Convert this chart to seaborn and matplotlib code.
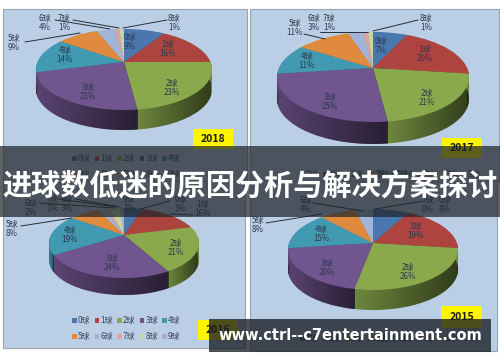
import numpy as np
from matplotlib import pyplot as plt
from matplotlib.patches import Rectangle
from matplotlib.path import Path
from matplotlib.transforms import Transform
import seaborn as sns

sns.set_theme(style='white')
plt.rcParams['font.family'] = ['Noto Sans CJK SC', 'DejaVu Sans']

title = "进球数低迷的原因分析与解决方案探讨"
site = "www.ctrl--c7entertainment.com"
goals = ["0球", "1球", "2球", "3球", "4球", "5球", "6球", "7球", "8球", "9球"]
colors = sns.color_palette(["#4a77ae", "#ad4440", "#8aa84c", "#71558f", "#4299b2",
                            "#e08a3e", "#a2b5d8", "#dba3a1", "#c4d6a2", "#b8a8cf"])

years = ["2018", "2017", "2016", "2015"]
shares_2018 = [9, 16, 23, 23, 14, 9, 4, 1, 1]
shares_2017 = [7, 20, 21, 25, 11, 11, 3, 1, 1]
shares_2016 = [5, 16, 21, 24, 19, 8, 2, 1, 3, 1]
shares_2015 = [8, 19, 26, 20, 15, 8, 4, 0]
shares = [shares_2018, shares_2017, shares_2016, shares_2015]

# pixel layout of every panel: cx, cy, half width, far radius, near radius, wall height
pies = [(124, 62, 88, 33, 48, 20),
        (373, 68, 96, 36, 54, 22),
        (124, 235, 75, 27, 43, 17),
        (373, 243, 85, 34, 47, 20)]
panels = [(3, 9, 244, 172), (250, 9, 249, 172), (3, 181, 242, 167), (250, 181, 247, 170)]
year_boxes = [(193, 129, 40, 20), (442, 138, 40, 20), (198, 320, 40, 20), (441, 306, 41, 22)]

label_xy = [
    [(130, 42), (168, 49), (172, 88), (88, 92), (65, 55), (14, 43), (45, 23), (64, 23), (174, 23)],
    [(381, 46), (425, 54), (427, 98), (330, 102), (307, 61), (295, 28), (314, 23), (329, 23), (426, 23)],
    [(181, 204), (203, 209), (176, 248), (112, 263), (70, 235), (12, 229), (31, 208), (52, 204), (67, 204), (129, 204)],
    [(445, 205), (416, 231), (408, 272), (327, 268), (321, 234), (258, 225), (306, 205), (428, 205)],
]
leaders = [
    [((25, 42), (80, 33)), ((55, 20), (110, 29)), ((73, 20), (119, 28)), ((167, 20), (123, 28))],
    [((304, 34), (325, 39)), ((320, 32), (357, 32)), ((335, 32), (368, 32)), ((418, 20), (373, 31))],
    [((21, 226), (72, 218)), ((39, 203), (115, 208)), ((58, 199), (117, 207)), ((75, 199), (120, 207)),
     ((170, 201), (140, 209)), ((193, 215), (170, 214))],
    [((266, 223), (322, 214)), ((313, 203), (363, 211)), ((423, 201), (375, 209))],
]
legend_rows = [[(72, 158, 0), (72, 174, 5)], [(300, 174, 0), (372, 174, 5)],
               [(72, 320, 0), (72, 336, 5)], [(300, 338, 0), (372, 338, 5)]]


class TiltedPie(Transform):
    # unit circle seen from above, near side larger than far side
    input_dims = output_dims = 2

    def __init__(self, cx, cy, width, far, near):
        super().__init__()
        self.cx, self.cy, self.far = cx, cy, far
        self.c = (near - far) / (near + far)
        self.width = width * np.sqrt(1 - self.c ** 2)

    def transform_non_affine(self, values):
        u, v = np.asarray(values).T
        w = 1 + self.c * v
        x = self.cx + self.width * u / w
        y = self.cy - self.far * (1 + self.c) * v / w
        return np.column_stack([x, y])


def draw_pie(ax, values, layout):
    cx, cy, width, far, near, depth = layout
    use = colors[:len(values)]
    walls = [tuple(np.array(c) * 0.8) for c in use]
    for dy in np.arange(depth, 0, -0.5):
        wedges, _ = ax.pie(values, colors=walls, startangle=90, counterclock=False, frame=True,
                           wedgeprops={'linewidth': 0})
        for w in wedges:
            w.set_transform(TiltedPie(cx, cy + dy, width, far, near) + ax.transData)

    # each slice of the front wall gets darker from left to right
    top = TiltedPie(cx, cy, width, far, near)
    ends = np.cumsum([0] + list(values)) * 3.6
    shade = np.zeros((1, 64, 4))
    shade[0, :, 3] = np.linspace(0, 0.55, 64)
    for a, b in zip(ends[:-1], ends[1:]):
        a, b = max(a, 90), min(b, 270)
        if b <= a:
            continue
        pts = top.transform_non_affine(np.array([[np.sin(np.radians(t)), np.cos(np.radians(t))] for t in (a, b)]))
        im = ax.imshow(shade, extent=(pts[1, 0], pts[0, 0], cy + near + depth, cy), aspect='auto', zorder=1.5)
        im.set_clip_path(Path.unit_circle(), TiltedPie(cx, cy + depth, width, far, near) + ax.transData)

    wedges, _ = ax.pie(values, colors=use, startangle=90, counterclock=False, frame=True,
                       wedgeprops={'linewidth': 0})
    for w in wedges:
        w.set_transform(top + ax.transData)
        w.set_zorder(2)


fig = plt.figure(figsize=(5, 3.62), dpi=100)
ax = fig.add_axes([0, 0, 1, 1])

for p in panels:
    ax.add_patch(Rectangle(p[:2], p[2], p[3], fc="#bacfe6", ec="#9aa3ad", lw=0.8, zorder=0))

for i in range(4):
    draw_pie(ax, shares[i], pies[i])
    for (x, y), name, val in zip(label_xy[i], goals, shares[i]):
        ax.text(x, y, f"{name}\n{val}%", ha='center', va='center', fontsize=5.8,
                color="#2c3a4c", linespacing=1.05, zorder=5)
    for a, b in leaders[i]:
        ax.plot([a[0], b[0]], [a[1], b[1]], color="#26303a", lw=0.7, zorder=5)
    x, y, w, h = year_boxes[i]
    ax.add_patch(Rectangle((x, y), w, h, fc="#fdf500", ec="none", zorder=3))
    ax.text(x + w / 2, y + h / 2, years[i], ha='center', va='center', fontsize=7.5,
            fontweight='bold', color="#1a1a1a", zorder=4)
    for x0, y0, start in legend_rows[i]:
        for k in range(5):
            x1 = x0 + k * 22.5
            ax.add_patch(Rectangle((x1, y0 - 2.5), 4.5, 5, fc=colors[start + k], ec="none", zorder=3))
            ax.text(x1 + 6, y0, goals[start + k], ha='left', va='center', fontsize=5.8,
                    color="#3a4656", zorder=3)

# faint watermark under the site band
ax.text(462, 330, "宅钱财富", ha='center', va='center', fontsize=7, color="#8d969e", zorder=2)

# overlay bands
ax.add_patch(Rectangle((0, 146), 500, 71, fc="#20252a", alpha=0.72, ec="none", zorder=8))
ax.text(249.5, 185, title, ha='center', va='center', fontsize=21, fontweight='bold',
        color="white", zorder=9)
ax.add_patch(Rectangle((209, 319), 282, 33, fc="#191e24", alpha=0.78, ec="none", zorder=8))
ax.text(350, 336, site, ha='center', va='center', fontsize=10.5, fontweight='bold',
        family='DejaVu Sans', color="white", zorder=9)

ax.set_aspect('auto')
ax.set_xlim(0, 500)
ax.set_ylim(362, 0)
ax.axis('off')
fig.savefig("out.png", dpi=100)
